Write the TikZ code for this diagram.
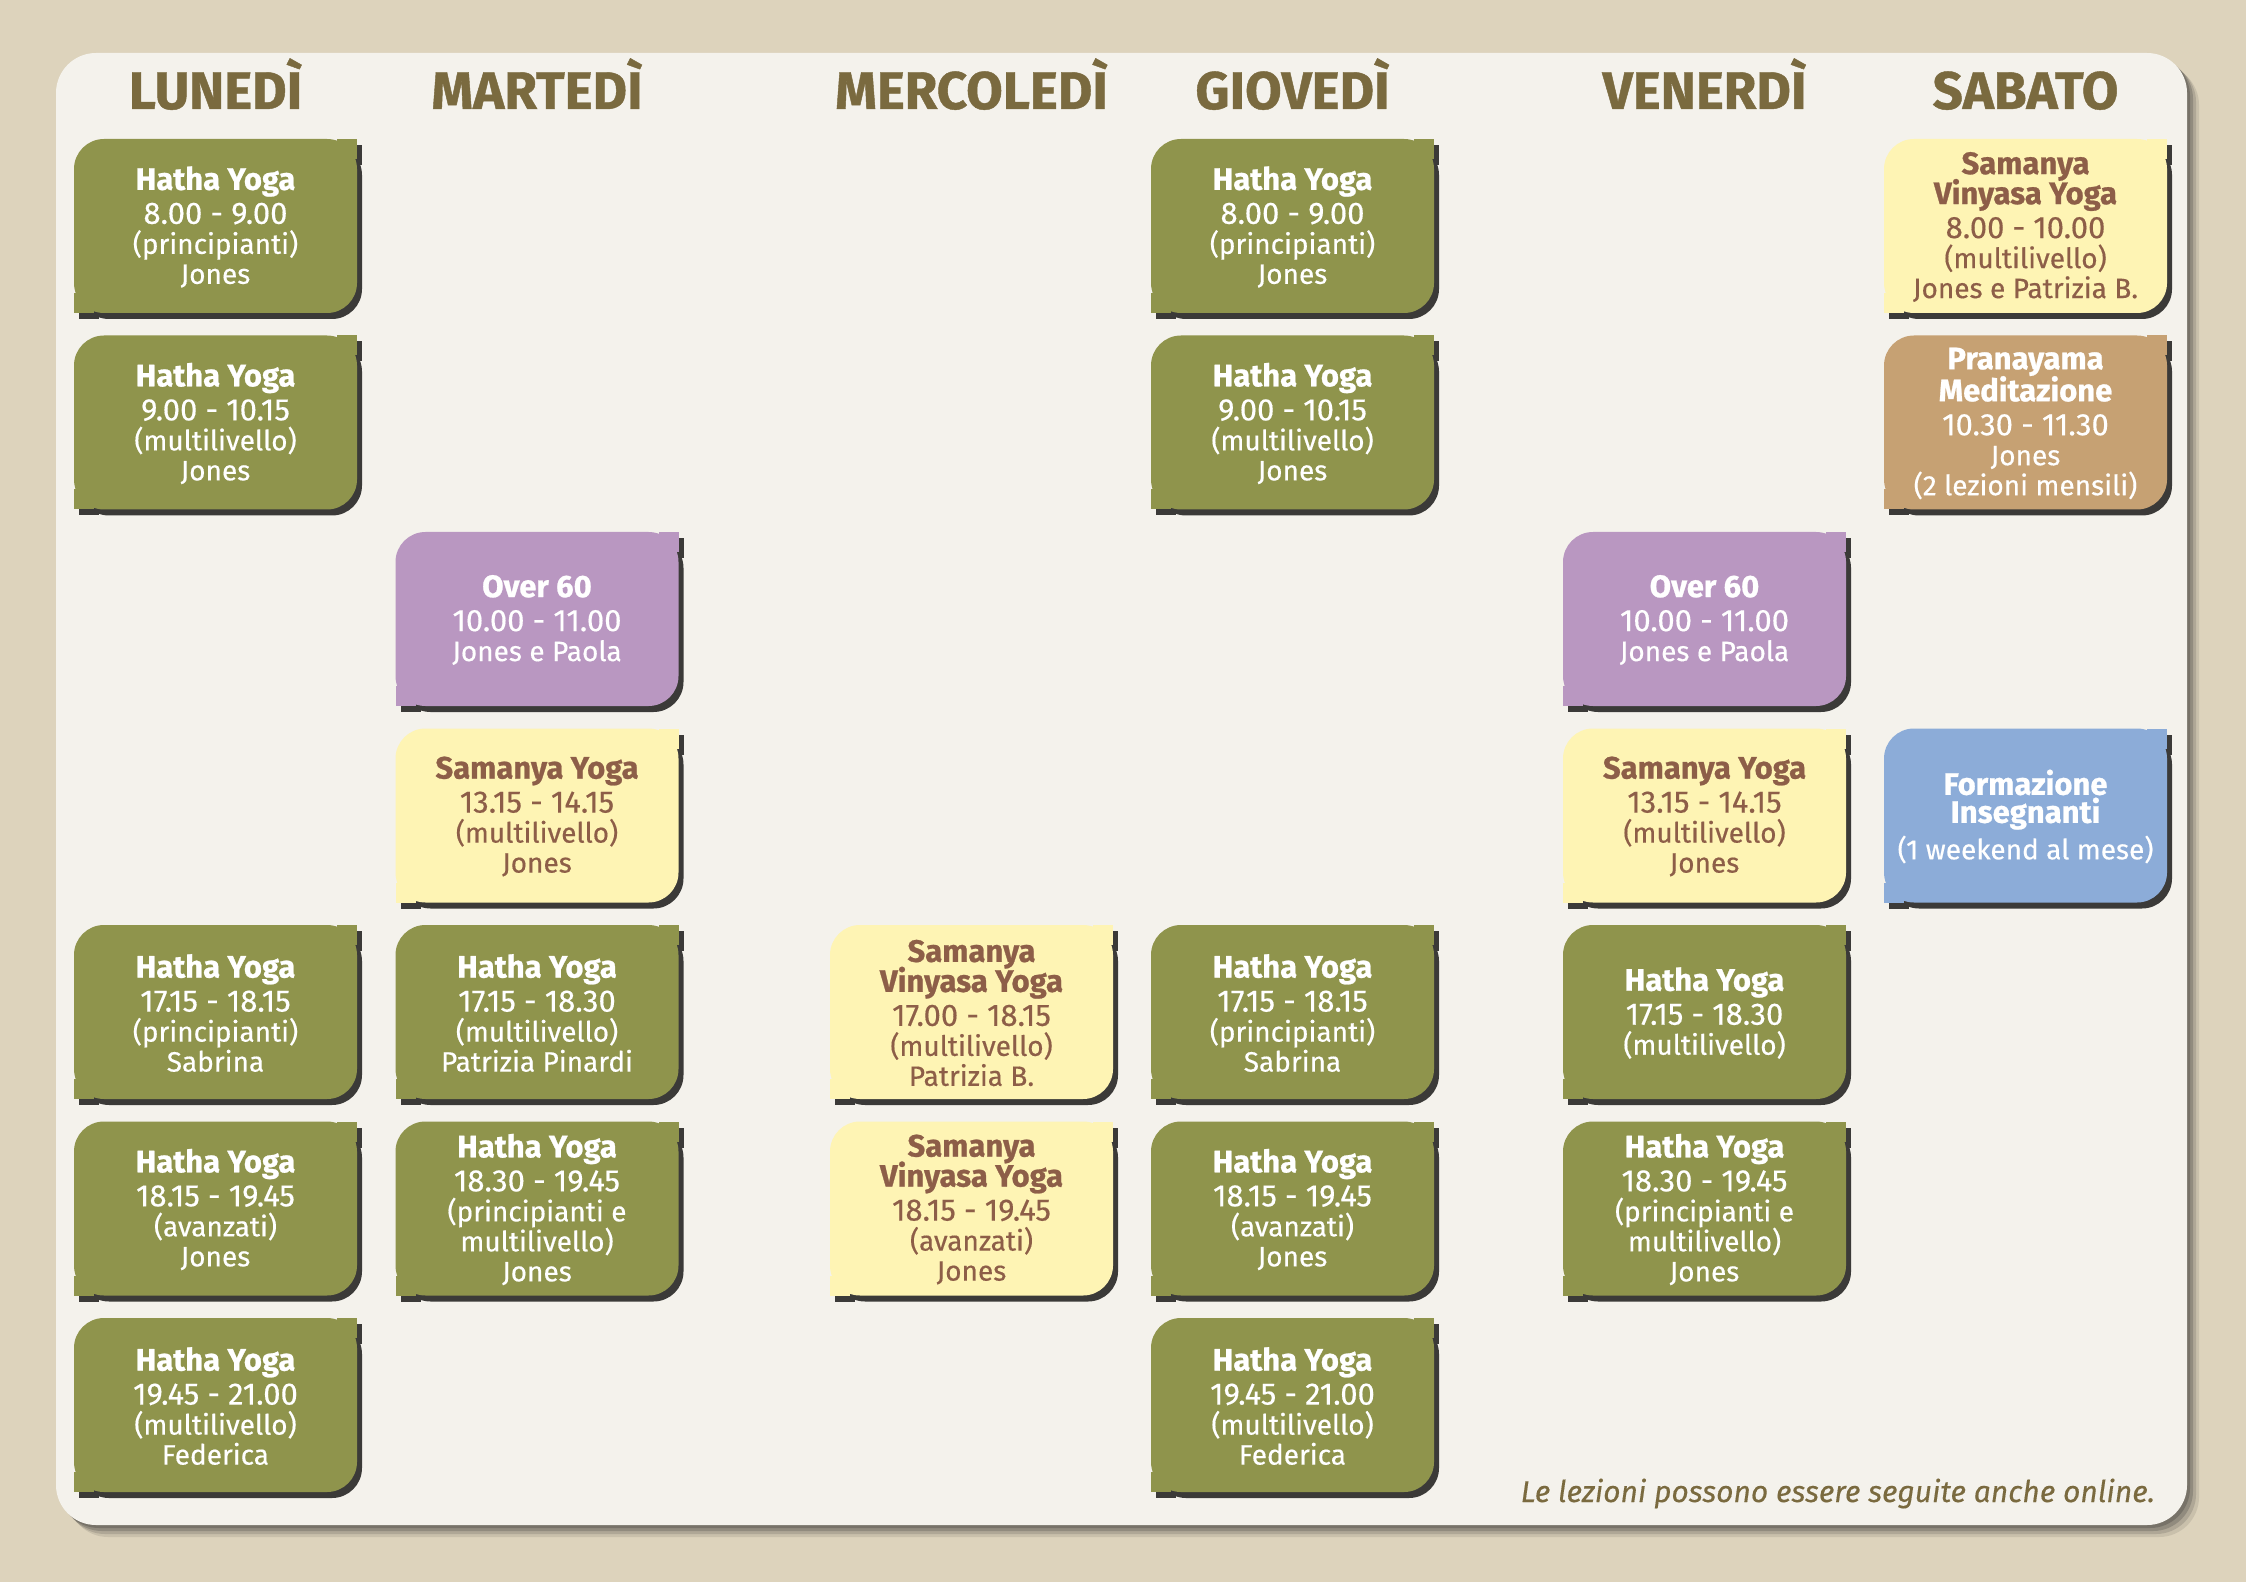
\documentclass[tikz,border=0pt]{standalone}
\usepackage{fontspec}
\setmainfont{Fira Sans}[UprightFeatures={FakeBold=0.4}, BoldFeatures={FakeBold=0.8}, ItalicFeatures={FakeBold=0.3}]

\definecolor{sfondo}{HTML}{DDD3BC}
\definecolor{pannello}{HTML}{F4F2EC}
\definecolor{verde}{HTML}{8F944C}
\definecolor{giallo}{HTML}{FEF4B4}
\definecolor{lilla}{HTML}{B997C1}
\definecolor{sabbia}{HTML}{C6A173}
\definecolor{azzurro}{HTML}{8CACD8}
\definecolor{bruno}{HTML}{7A6A3F}
\definecolor{mattone}{HTML}{8D5E48}
\definecolor{ombra}{HTML}{3B3A38}

% one lesson card: name, left, top, fill, text colour, text
\newcommand{\lezione}[6]{%
  \fill[ombra, rounded corners=15pt] ({#2+5},{#3+6}) rectangle ++(283,174);
  \fill[ombra] ({#2+268},{#3+6}) rectangle ++(20,20);
  \fill[ombra] ({#2+5},{#3+160}) rectangle ++(20,20);
  \fill[#4, rounded corners=15pt] (#2,#3) rectangle ++(283,174);
  \fill[#4] ({#2+263},#3) rectangle ++(20,20);
  \fill[#4] (#2,{#3+154}) rectangle ++(20,20);
  \node[testo, text=#5] (#1) at ({#2+141.5},{#3+88}) {#6};
}
\newcommand{\tit}[1]{{\bfseries\fontsize{15.5}{15}\selectfont #1}}
\newcommand{\ora}[1]{{\fontsize{15.5}{15}\selectfont #1}}

\begin{document}
\begin{tikzpicture}[x=0.5pt, y=-0.5pt,
    testo/.style={align=center, inner sep=0pt, font=\fontsize{14}{15}\selectfont},
    giorno/.style={anchor=base, text=bruno, font=\bfseries\fontsize{26.5}{26.5}\selectfont}]
            \useasboundingbox (0,0) rectangle (2246,1582);
            \fill[sfondo] (0,0) rectangle (2246,1582);

            % Panel with its shadow
            \foreach \s/\o in {12/0.12, 9/0.18, 6/0.25, 3/0.3}
                \fill[ombra, opacity=\o, rounded corners=20pt] ({56+\s},{53+\s}) rectangle ({2187+\s},{1525+\s});
            \fill[pannello, rounded corners=20pt] (56,53) rectangle (2187,1525);

            % Days
            \node[giorno] (lun) at (215.5,109) {LUNEDÌ};
            \node[giorno] (mar) at (537,109) {MARTEDÌ};
            \node[giorno] (mer) at (971.5,109) {MERCOLEDÌ};
            \node[giorno] (gio) at (1292.5,109) {GIOVEDÌ};
            \node[giorno] (ven) at (1704.5,109) {VENERDÌ};
            \node[giorno] (sab) at (2025.5,109) {SABATO};

            % Lunedi
            \lezione{lun1}{74}{139}{verde}{white}{\tit{Hatha Yoga}\\[2pt]\ora{8.00 - 9.00}\\(principianti)\\Jones}
            \lezione{lun2}{74}{335.5}{verde}{white}{\tit{Hatha Yoga}\\[2pt]\ora{9.00 - 10.15}\\(multilivello)\\Jones}
            \lezione{lun5}{74}{925}{verde}{white}{\tit{Hatha Yoga}\\[2pt]\ora{17.15 - 18.15}\\(principianti)\\Sabrina}
            \lezione{lun6}{74}{1121.5}{verde}{white}{\tit{Hatha Yoga}\\[2pt]\ora{18.15 - 19.45}\\(avanzati)\\Jones}
            \lezione{lun7}{74}{1318}{verde}{white}{\tit{Hatha Yoga}\\[2pt]\ora{19.45 - 21.00}\\(multilivello)\\Federica}

            % Martedi
            \lezione{mar3}{395.5}{532}{lilla}{white}{\tit{Over 60}\\[2pt]\ora{10.00 - 11.00}\\Jones e Paola}
            \lezione{mar4}{395.5}{728.5}{giallo}{mattone}{\tit{Samanya Yoga}\\[2pt]\ora{13.15 - 14.15}\\(multilivello)\\Jones}
            \lezione{mar5}{395.5}{925}{verde}{white}{\tit{Hatha Yoga}\\[2pt]\ora{17.15 - 18.30}\\(multilivello)\\Patrizia Pinardi}
            \lezione{mar6}{395.5}{1121.5}{verde}{white}{\tit{Hatha Yoga}\\[2pt]\ora{18.30 - 19.45}\\(principianti e\\multilivello)\\Jones}

            % Mercoledi
            \lezione{mer5}{830}{925}{giallo}{mattone}{\tit{Samanya}\\[-2pt]\tit{Vinyasa Yoga}\\[2pt]\ora{17.00 - 18.15}\\(multilivello)\\Patrizia B.}
            \lezione{mer6}{830}{1121.5}{giallo}{mattone}{\tit{Samanya}\\[-2pt]\tit{Vinyasa Yoga}\\[2pt]\ora{18.15 - 19.45}\\(avanzati)\\Jones}

            % Giovedi
            \lezione{gio1}{1151}{139}{verde}{white}{\tit{Hatha Yoga}\\[2pt]\ora{8.00 - 9.00}\\(principianti)\\Jones}
            \lezione{gio2}{1151}{335.5}{verde}{white}{\tit{Hatha Yoga}\\[2pt]\ora{9.00 - 10.15}\\(multilivello)\\Jones}
            \lezione{gio5}{1151}{925}{verde}{white}{\tit{Hatha Yoga}\\[2pt]\ora{17.15 - 18.15}\\(principianti)\\Sabrina}
            \lezione{gio6}{1151}{1121.5}{verde}{white}{\tit{Hatha Yoga}\\[2pt]\ora{18.15 - 19.45}\\(avanzati)\\Jones}
            \lezione{gio7}{1151}{1318}{verde}{white}{\tit{Hatha Yoga}\\[2pt]\ora{19.45 - 21.00}\\(multilivello)\\Federica}

            % Venerdi
            \lezione{ven3}{1563}{532}{lilla}{white}{\tit{Over 60}\\[2pt]\ora{10.00 - 11.00}\\Jones e Paola}
            \lezione{ven4}{1563}{728.5}{giallo}{mattone}{\tit{Samanya Yoga}\\[2pt]\ora{13.15 - 14.15}\\(multilivello)\\Jones}
            \lezione{ven5}{1563}{925}{verde}{white}{\tit{Hatha Yoga}\\[2pt]\ora{17.15 - 18.30}\\(multilivello)}
            \lezione{ven6}{1563}{1121.5}{verde}{white}{\tit{Hatha Yoga}\\[2pt]\ora{18.30 - 19.45}\\(principianti e\\multilivello)\\Jones}

            % Sabato
            \lezione{sab1}{1884}{139}{giallo}{mattone}{\tit{Samanya}\\[-2pt]\tit{Vinyasa Yoga}\\[2pt]\ora{8.00 - 10.00}\\(multilivello)\\Jones e Patrizia B.}
            \lezione{sab2}{1884}{335.5}{sabbia}{white}{\tit{Pranayama}\\[-1pt]\tit{Meditazione}\\[2pt]\ora{10.30 - 11.30}\\Jones\\(2 lezioni mensili)}
            \lezione{sab4}{1884}{728.5}{azzurro}{white}{\tit{Formazione}\\[-1pt]\tit{Insegnanti}\\[2pt](1 weekend al mese)}

            % Note
            \node[anchor=base east, text=bruno, font=\itshape\fontsize{15}{15}\selectfont] (nota) at (2162,1502) {Le lezioni possono essere seguite anche online.};

        \end{tikzpicture}
\end{document}
